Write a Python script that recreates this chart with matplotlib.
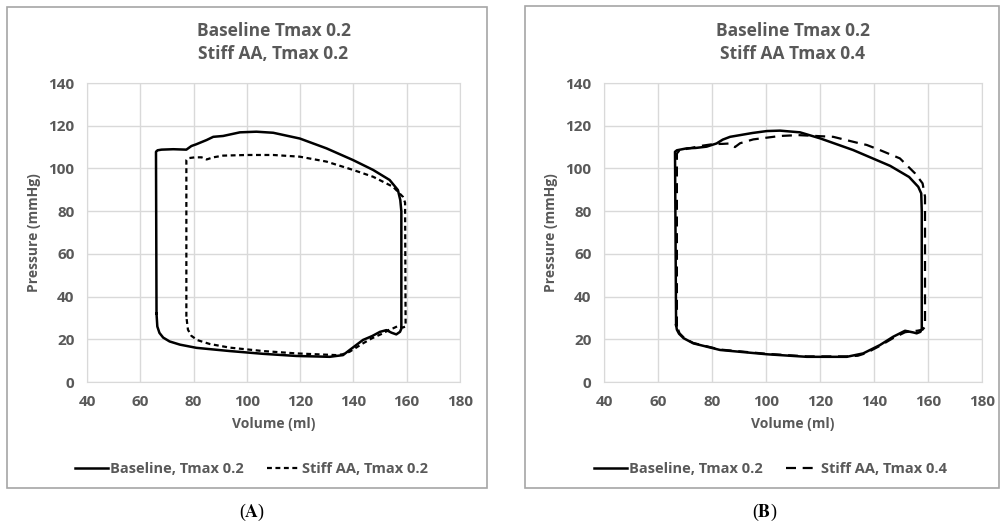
import matplotlib
matplotlib.use("Agg")
import matplotlib.pyplot as plt
from matplotlib.patches import Rectangle

# values: volume (ml), pressure (mmHg)
base_a_v = [66.1, 65.9, 66.5, 68.0, 72.4, 77.3, 79.2, 81.0, 84.9, 87.4, 91.1, 97.4, 103.6, 109.9,
            119.9, 129.9, 139.9, 147.4, 153.6, 156.7, 157.6, 158.0, 158.0, 157.5, 156.1, 154.3,
            152.4, 150.0, 147.0, 143.6, 138.6, 136.1, 131.1, 118.6, 106.1, 93.6, 81.1, 74.9,
            71.0, 68.6, 67.2, 66.4, 66.1]
base_a_p = [32.0, 107.8, 108.5, 108.8, 109.0, 108.8, 110.5, 111.3, 113.3, 114.8, 115.2, 116.9, 117.2,
            116.7, 114.0, 109.4, 103.9, 99.3, 94.6, 89.9, 85.2, 80.0, 25.0, 23.5, 22.3, 23.1,
            24.3, 23.5, 21.5, 19.7, 15.0, 12.6, 11.8, 12.2, 13.2, 14.5, 16.0, 17.5, 19.0,
            20.8, 23.0, 26.0, 32.0]

stiff_a_v = [77.3, 77.3, 78.0, 80.5, 83.0, 84.9, 87.4, 91.1, 100.0, 109.9, 119.9, 129.9, 139.9,
             147.4, 154.9, 158.6, 159.4, 159.6, 158.5, 156.7, 155.0, 153.6, 151.1, 147.0, 143.6,
             138.6, 136.0, 133.6, 126.0, 118.6, 106.1, 93.6, 86.1, 81.5, 79.2, 77.9, 77.3]
stiff_a_p = [30.6, 103.9, 104.8, 105.2, 105.2, 104.2, 105.2, 106.0, 106.3, 106.3, 105.5, 103.2, 99.3,
             96.1, 91.4, 86.7, 84.0, 26.0, 25.5, 26.2, 25.2, 24.6, 22.8, 20.5, 18.1,
             14.2, 13.0, 12.6, 13.0, 13.4, 14.5, 16.1, 17.8, 19.6, 21.6, 24.5, 30.6]

base_b_v = [66.7, 66.3, 67.0, 70.6, 74.0, 78.0, 81.7, 84.0, 86.7, 90.4, 95.0, 100.3, 105.2, 112.6,
            120.0, 132.3, 146.0, 153.0, 156.4, 157.5, 157.7, 157.7, 157.2, 155.8, 154.6, 151.5,
            147.1, 142.2, 136.0, 129.9, 115.1, 100.3, 83.0, 73.1, 69.5, 67.8, 67.0, 66.7]
base_b_p = [26.7, 107.8, 108.5, 109.4, 109.6, 110.2, 111.7, 113.5, 114.8, 115.6, 116.6, 117.5, 117.7,
            116.9, 114.1, 108.6, 101.2, 96.0, 91.4, 88.3, 80.0, 25.0, 23.5, 22.8, 23.2, 24.0,
            21.2, 17.3, 13.4, 11.8, 11.8, 13.0, 15.0, 18.1, 20.5, 22.6, 24.5, 26.7]

stiff_b_v = [67.0, 67.0, 68.0, 72.0, 75.6, 80.5, 84.0, 86.7, 88.5, 90.4, 95.3, 105.2, 112.0, 124.9,
             134.8, 137.3, 142.2, 149.6, 155.2, 158.0, 158.9, 158.9, 158.0, 156.0, 154.0, 151.5,
             147.0, 142.0, 137.0, 134.0, 130.0, 115.1, 100.3, 83.0, 73.0, 69.8, 68.0, 67.0]
stiff_b_p = [26.0, 107.0, 108.5, 109.5, 110.5, 111.4, 111.5, 111.7, 110.0, 111.8, 113.6, 115.2, 115.6,
             114.8, 111.7, 111.0, 108.6, 104.7, 97.7, 93.0, 86.8, 25.9, 24.5, 24.0, 23.8, 23.3,
             20.5, 16.8, 13.5, 12.3, 12.0, 12.0, 13.2, 15.2, 18.3, 20.5, 22.8, 26.0]

x_ticks = [40, 60, 80, 100, 120, 140, 160, 180]
y_ticks = [0, 20, 40, 60, 80, 100, 120, 140]

grey = "#595959"
grid = "#d9d9d9"

plt.rcParams["font.family"] = ["Open Sans", "DejaVu Sans"]
plt.rcParams["mathtext.fontset"] = "stix"

fig = plt.figure(figsize=(10.01, 5.27), dpi=100)

# panel frames
fig.patches.append(Rectangle((0.007, 0.074), 0.4795, 0.9127, transform=fig.transFigure,
                             fill=False, edgecolor="#a6a6a6", lw=1.2))
fig.patches.append(Rectangle((0.5245, 0.074), 0.4735, 0.9146, transform=fig.transFigure,
                             fill=False, edgecolor="#a6a6a6", lw=1.2))

ax_a = fig.add_axes([0.0869, 0.2751, 0.3726, 0.5674])
ax_b = fig.add_axes([0.6034, 0.2751, 0.3776, 0.5674])

panels = [
    (ax_a, base_a_v, base_a_p, stiff_a_v, stiff_a_p, (0, (2.2, 1.6)),
     "Baseline Tmax 0.2\nStiff AA, Tmax 0.2", "Stiff AA, Tmax 0.2"),
    (ax_b, base_b_v, base_b_p, stiff_b_v, stiff_b_p, (0, (4.5, 3.0)),
     "Baseline Tmax 0.2\nStiff AA Tmax 0.4", "Stiff AA, Tmax 0.4"),
]

for ax, bv, bp, sv, sp, dash, title, lab in panels:
    ax.plot(bv, bp, color="black", lw=1.8, label="Baseline, Tmax 0.2")
    ax.plot(sv, sp, color="black", lw=1.6, linestyle=dash, label=lab)
    ax.set_xlim(40, 180)
    ax.set_ylim(0, 140)
    ax.set_xticks(x_ticks)
    ax.set_yticks(y_ticks)
    ax.grid(True, color=grid, lw=1)
    ax.set_axisbelow(True)
    for s in ax.spines.values():
        s.set_color(grid)
    ax.tick_params(length=0, labelsize=11, labelcolor=grey, pad=9)
    for t in ax.get_xticklabels() + ax.get_yticklabels():
        t.set_fontweight("bold")
    ax.set_xlabel("Volume (ml)", fontsize=10, color=grey, fontweight="bold", labelpad=6)
    ax.set_ylabel("Pressure (mmHg)", fontsize=10, color=grey, fontweight="bold", labelpad=5)
    ax.set_title(title, fontsize=12.5, color=grey, fontweight="bold", pad=17, linespacing=1.35)
    ax.legend(loc="center", bbox_to_anchor=(0.44, -0.29), ncol=2, frameon=False,
              labelcolor=grey, handlelength=2.3, handletextpad=0.1,
              columnspacing=1.6, prop={"weight": "bold", "size": 10.5})

fig.text(0.252, 0.028, r"($\mathbf{A}$)", ha="center", va="center", fontsize=13,
         family="Liberation Serif")
fig.text(0.764, 0.028, r"($\mathbf{B}$)", ha="center", va="center", fontsize=13,
         family="Liberation Serif")

fig.savefig("out.png", dpi=100)
